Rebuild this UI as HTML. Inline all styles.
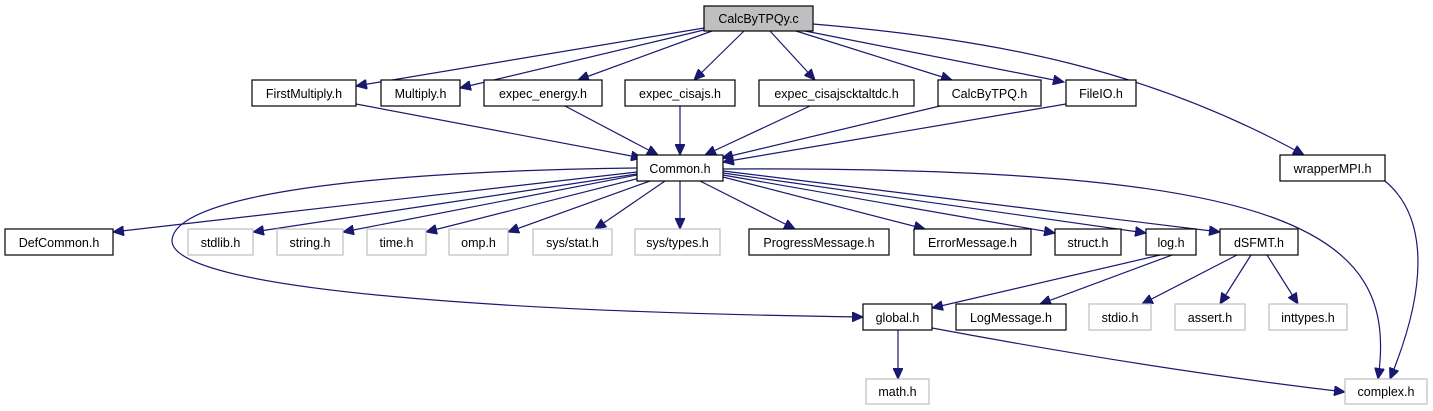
<!DOCTYPE html>
<html><head><meta charset="utf-8"><style>
html,body{margin:0;padding:0;background:#fff;}
svg{display:block;}
text{font-family:"Liberation Sans",sans-serif;font-size:12.5px;fill:#000;text-anchor:middle;}
.e{fill:none;stroke:#191970;stroke-width:1.2;}
.b{fill:#fff;stroke:#000;stroke-width:1.2;}
.g{fill:#fff;stroke:#bfbfbf;stroke-width:1.2;}
</style></head><body>
<svg width="1433" height="411" viewBox="0 0 1433 411" xmlns="http://www.w3.org/2000/svg">
<defs>
<marker id="a" markerUnits="userSpaceOnUse" markerWidth="12" markerHeight="10" refX="11" refY="5" orient="auto">
<path d="M0,0 L11,5 L0,10 Z" fill="#191970" stroke="#191970"/>
</marker>
</defs>
<g marker-end="url(#a)">
<path class="e" d="M704,28 L356,86"/>
<path class="e" d="M704,30 L460,88"/>
<path class="e" d="M712,31 L578,80"/>
<path class="e" d="M744,31 L694,80"/>
<path class="e" d="M770,31 L815,80"/>
<path class="e" d="M796,31 L952,80"/>
<path class="e" d="M800,30 L1064,82"/>
<path class="e" d="M813,24 C1000,40 1150,70 1304,155"/>
<path class="e" d="M356,104 L642,158"/>
<path class="e" d="M565,106 L658,155"/>
<path class="e" d="M680,106 L680,155"/>
<path class="e" d="M810,106 L705,155"/>
<path class="e" d="M940,106 L722,158"/>
<path class="e" d="M1066,104 L723,162"/>
<path class="e" d="M637,172 L113,232"/>
<path class="e" d="M637,174 L253,232"/>
<path class="e" d="M637,175 L343,232"/>
<path class="e" d="M640,178 L426,232"/>
<path class="e" d="M650,181 L508,232"/>
<path class="e" d="M665,181 L595,229"/>
<path class="e" d="M680,181 L680,229"/>
<path class="e" d="M700,181 L795,229"/>
<path class="e" d="M723,177 L925,229"/>
<path class="e" d="M723,175 L1055,233"/>
<path class="e" d="M723,173 L1146,233"/>
<path class="e" d="M723,171 L1220,232"/>
<path class="e" d="M723,169 C1290,166 1400,230 1378,379"/>
<path class="e" d="M637,168 C330,172 175,200 172,240 C170,290 500,312 863,317"/>
<path class="e" d="M1385,181 C1420,210 1435,270 1390,379"/>
<path class="e" d="M1160,255 L932,308"/>
<path class="e" d="M1172,255 L1040,304"/>
<path class="e" d="M1237,255 L1142,304"/>
<path class="e" d="M1251,255 L1220,304"/>
<path class="e" d="M1267,255 L1298,304"/>
<path class="e" d="M898,330 L898,379"/>
<path class="e" d="M932,328 C1050,350 1200,375 1345,392"/>
</g>
<rect x="704" y="6" width="109" height="25" fill="#bfbfbf" stroke="#000" stroke-width="1.2"/><text x="758.5" y="23">CalcByTPQy.c</text>
<rect class="b" x="252" y="80" width="104" height="26"/><text x="304" y="98">FirstMultiply.h</text>
<rect class="b" x="381" y="80" width="79" height="26"/><text x="420.5" y="98">Multiply.h</text>
<rect class="b" x="484" y="80" width="118" height="26"/><text x="543" y="98">expec_energy.h</text>
<rect class="b" x="625" y="80" width="110" height="26"/><text x="680" y="98">expec_cisajs.h</text>
<rect class="b" x="759" y="80" width="155" height="26"/><text x="836.5" y="98">expec_cisajscktaltdc.h</text>
<rect class="b" x="938" y="80" width="103" height="26"/><text x="989.5" y="98">CalcByTPQ.h</text>
<rect class="b" x="1066" y="80" width="70" height="26"/><text x="1101" y="98">FileIO.h</text>
<rect class="b" x="637" y="155" width="86" height="26"/><text x="680" y="173">Common.h</text>
<rect class="b" x="1280" y="155" width="105" height="26"/><text x="1332.5" y="173">wrapperMPI.h</text>
<rect class="b" x="5" y="229" width="108" height="26"/><text x="59" y="247">DefCommon.h</text>
<rect class="g" x="188" y="229" width="65" height="26"/><text x="220.5" y="247">stdlib.h</text>
<rect class="g" x="277" y="229" width="66" height="26"/><text x="310" y="247">string.h</text>
<rect class="g" x="367" y="229" width="59" height="26"/><text x="396.5" y="247">time.h</text>
<rect class="g" x="449" y="229" width="59" height="26"/><text x="478.5" y="247">omp.h</text>
<rect class="g" x="533" y="229" width="79" height="26"/><text x="572.5" y="247">sys/stat.h</text>
<rect class="g" x="635" y="229" width="85" height="26"/><text x="677.5" y="247">sys/types.h</text>
<rect class="b" x="749" y="229" width="140" height="26"/><text x="819" y="247">ProgressMessage.h</text>
<rect class="b" x="914" y="229" width="117" height="26"/><text x="972.5" y="247">ErrorMessage.h</text>
<rect class="b" x="1055" y="229" width="66" height="26"/><text x="1088" y="247">struct.h</text>
<rect class="b" x="1146" y="229" width="50" height="26"/><text x="1171" y="247">log.h</text>
<rect class="b" x="1220" y="229" width="78" height="26"/><text x="1259" y="247">dSFMT.h</text>
<rect class="b" x="863" y="304" width="69" height="26"/><text x="897.5" y="322">global.h</text>
<rect class="b" x="956" y="304" width="110" height="26"/><text x="1011" y="322">LogMessage.h</text>
<rect class="g" x="1089" y="304" width="62" height="26"/><text x="1120" y="322">stdio.h</text>
<rect class="g" x="1175" y="304" width="70" height="26"/><text x="1210" y="322">assert.h</text>
<rect class="g" x="1269" y="304" width="78" height="26"/><text x="1308" y="322">inttypes.h</text>
<rect class="g" x="866" y="379" width="63" height="25"/><text x="897.5" y="396">math.h</text>
<rect class="g" x="1345" y="379" width="82" height="25"/><text x="1386" y="396">complex.h</text>
</svg>
</body></html>
